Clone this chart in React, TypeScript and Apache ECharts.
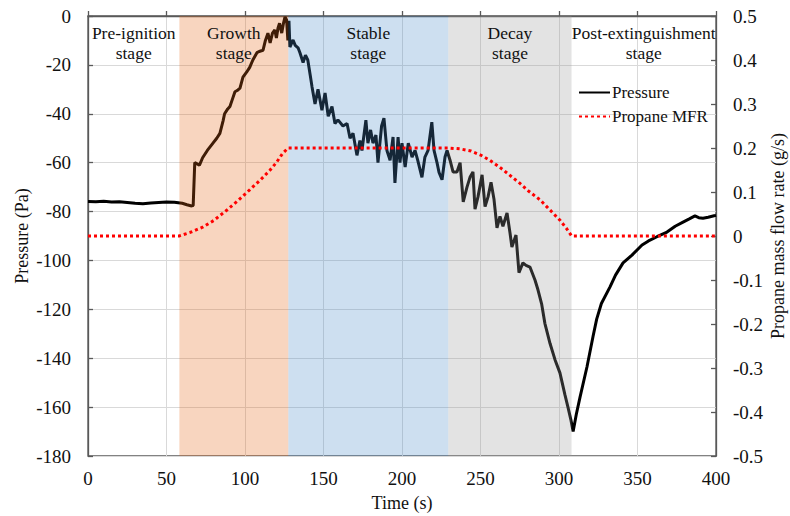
import React, { useEffect, useRef } from "react";
import * as echarts from "echarts";

// ---- Data ----
const timeS = [
  0, 5, 10, 15, 20, 25, 30, 35, 40, 45, 50, 55, 60, 63, 66, 67,
  68, 69.5, 71, 73, 76, 79.6, 82, 84, 86, 87, 89, 90.4, 92, 93.6, 95, 96.8, 98.7, 101, 103, 105, 107.6, 109, 111.5, 113, 114.6, 116, 117.5, 119, 120, 121, 122, 123.4, 124.5, 125.5, 126.5, 127.3,
  128, 128.6, 130.6, 132, 133.8, 135, 137, 138.5, 140, 141.5, 142.7, 144.6, 146.5, 149, 151, 153, 155.4, 157.3, 159.2, 162.4, 165, 166.9, 168.8, 171.3, 173.2, 174.5, 177, 178.3, 180, 181.5, 183.4, 184.7, 187, 188.5, 190.4, 192.4, 194.3, 195.5, 197.5, 198.7, 200, 202, 204, 206.4, 208.3, 210, 212.7, 214.6, 216.6, 219, 220.4, 222.3, 223.6, 225.5, 227.4,
  228.7, 230.6, 232.5, 235, 237, 239, 241.4, 243.3, 245.2, 246.5, 248.4, 251, 252.9, 254.8, 256.7, 258.6, 260.5, 262.4, 264.3, 266.9, 268.8, 270, 272.6, 274.5, 277, 279, 281.5, 284.7, 286.6, 289, 291, 294.3, 297.5, 300.6, 303.8, 305.7, 307.5, 309,
  311, 313.4, 317.8, 321.7, 324, 327, 332.5, 336, 340.8, 346.5, 352.9, 357, 362.4, 368.8, 374, 379, 383, 386.6, 389, 391.7, 395, 399.4, 400,
];
const pressurePa = [
  -75.9, -76.0, -75.8, -76.1, -76.0, -76.3, -76.6, -76.8, -76.5, -76.3, -76.1, -76.2, -76.6, -77.2, -77.7, -77.5,
  -60, -60.5, -61, -58, -55, -52, -50, -48, -43, -40, -38, -37, -34, -31, -30.5, -29.5, -25, -23, -21, -18, -15, -14.5, -14, -10, -7, -11, -7, -5.7, -9, -5, -3, -7, -3, -0.4, -1.6, -10,
  -2, -12.7, -9.8, -12, -13, -15, -19, -16, -18, -24, -29, -36, -30, -38.5, -31.5, -41, -37, -44, -42.5, -45, -44, -50, -48, -57, -51, -55, -42.6, -52, -46.6, -52, -48.7, -60, -45, -41.8, -55, -59, -49.5, -68.3, -49.5, -60, -52, -61.8, -52, -57.7, -55, -59, -66, -57.7, -55, -43.4, -55, -60, -64, -67, -57.7,
  -55, -59, -63.8, -63.8, -60, -76, -70, -66, -63.8, -79, -74, -65, -78, -74, -68, -75, -86.7, -82, -86, -80.6, -88.8, -94.5, -89.6, -105, -101, -102, -102.7, -108, -112, -118, -125.7, -134, -140.7, -146, -155, -160, -165, -170,
  -163, -155.9, -143.6, -131, -124, -117.6, -110.8, -106, -101, -97.8, -93.7, -92, -90.3, -88.4, -86, -84.3, -83, -81.8, -82.5, -82.7, -82.3, -81.6, -81.5,
];
const mfrTime = [0, 58, 65, 73, 80, 88.5, 96, 103, 110, 116, 120, 124, 127.5, 229.5, 237, 244, 250, 256, 262, 268, 275, 281, 288, 294, 300.6, 305, 308, 400];
const mfrValue = [0, 0, 0.008, 0.02, 0.035, 0.059, 0.082, 0.105, 0.128, 0.15, 0.167, 0.188, 0.2, 0.2, 0.198, 0.193, 0.184, 0.172, 0.157, 0.14, 0.12, 0.101, 0.082, 0.06, 0.036, 0.016, 0, 0];

const stageLabels = ["Pre-ignition\nstage", "Growth\nstage", "Stable\nstage", "Decay\nstage", "Post-extinguishment\nstage"];
const stageStart = [0, 58.2, 127.6, 229.5, 308];
const stageEnd = [58.2, 127.6, 229.5, 308, 400];
const stageFill = [
  "rgba(0,0,0,0)",
  "rgba(230,105,26,0.28)",
  "rgba(76,141,201,0.28)",
  "rgba(155,155,155,0.28)",
  "rgba(0,0,0,0)",
];

const FONT = "Liberation Serif, serif";
const AXIS_COLOR = "#595959";
const TEXT_COLOR = "#111";

export default function App() {
  const ref = useRef<HTMLDivElement>(null);
  useEffect(() => {
    if (!ref.current) return;
    const chart = echarts.init(ref.current, undefined, { renderer: "svg" });
    const pressureData = timeS.map((t, i) => [t, pressurePa[i]]);
    const mfrData = mfrTime.map((t, i) => [t, mfrValue[i]]);
    const stageData = stageStart.map((s, i) => [s, stageEnd[i]]);

    const axisLabel = { fontFamily: FONT, fontSize: 19, color: TEXT_COLOR };
    const axisLine = { show: true, lineStyle: { color: AXIS_COLOR, width: 1.3 } };
    const axisTick = { show: true, inside: true, length: 5, lineStyle: { color: AXIS_COLOR, width: 1.3 } };

    chart.setOption({
      animation: false,
      backgroundColor: "#fff",
      textStyle: { fontFamily: FONT },
      grid: {
        left: 88, top: 16, width: 628, height: 440,
        outerBoundsMode: "none",
        containLabel: false,
        show: true, borderColor: AXIS_COLOR, borderWidth: 1.3, backgroundColor: "transparent",
      },
      legend: {
        orient: "vertical",
        left: 578,
        top: 84,
        padding: 0,
        itemWidth: 31,
        itemHeight: 14,
        itemGap: 7,
        itemStyle: { opacity: 0 },
        textStyle: { fontFamily: FONT, fontSize: 17, color: TEXT_COLOR, padding: [0, 0, 0, -3] },
        data: ["Pressure", "Propane MFR"],
      },
      xAxis: {
        type: "value", min: 0, max: 400, interval: 50,
        name: "Time (s)", nameLocation: "middle", nameGap: 38,
        nameMoveOverlap: false,
        nameTextStyle: { fontFamily: FONT, fontSize: 18, color: TEXT_COLOR },
        axisLabel: { ...axisLabel, margin: 13 },
        axisLine, axisTick,
        splitLine: { show: true, lineStyle: { color: "#d9d9d9", width: 1 } },
      },
      yAxis: [
        {
          type: "value", min: -180, max: 0, interval: 20,
          name: "Pressure (Pa)", nameLocation: "middle", nameGap: 57, nameRotate: 90,
          nameMoveOverlap: false,
          nameTextStyle: { fontFamily: FONT, fontSize: 18, color: TEXT_COLOR },
          axisLabel: { ...axisLabel, margin: 17 },
          axisLine, axisTick,
          splitLine: { show: true, lineStyle: { color: "#d9d9d9", width: 1 } },
        },
        {
          type: "value", min: -0.5, max: 0.5, interval: 0.1, position: "right",
          name: "Propane mass flow rate (g/s)", nameLocation: "middle", nameGap: 53, nameRotate: 90,
          nameMoveOverlap: false,
          nameTextStyle: { fontFamily: FONT, fontSize: 18, color: TEXT_COLOR },
          axisLabel: { ...axisLabel, margin: 17, formatter: (v: number) => String(Math.round(v * 10) / 10) },
          axisLine, axisTick,
          splitLine: { show: false },
        },
      ],
      series: [
        {
          name: "Pressure",
          type: "line",
          xAxisIndex: 0, yAxisIndex: 0,
          data: pressureData,
          symbol: "none", showSymbol: false,
          lineStyle: { color: "#000", width: 3 },
          itemStyle: { color: "#000" },
          z: 2,
        },
        {
          type: "custom",
          xAxisIndex: 0, yAxisIndex: 0,
          data: stageData,
          encode: { x: [0, 1] },
          silent: true,
          z: 3,
          renderItem: (params: any, api: any) => {
            const s = api.value(0);
            const e = api.value(1);
            const p1 = api.coord([s, 0]);
            const p2 = api.coord([e, -180]);
            const i = params.dataIndex;
            return {
              type: "group",
              children: [
                {
                  type: "rect",
                  shape: { x: p1[0], y: p1[1], width: p2[0] - p1[0], height: p2[1] - p1[1] },
                  style: { fill: stageFill[i] },
                },
                {
                  type: "text",
                  x: (p1[0] + p2[0]) / 2,
                  y: p1[1] + 7,
                  style: {
                    text: stageLabels[i],
                    fill: TEXT_COLOR,
                    fontFamily: FONT,
                    fontSize: 17.5,
                    align: "center",
                    verticalAlign: "top",
                    lineHeight: 20,
                  },
                },
              ],
            };
          },
        },
        {
          name: "Propane MFR",
          type: "line",
          xAxisIndex: 0, yAxisIndex: 1,
          data: mfrData,
          symbol: "none", showSymbol: false,
          lineStyle: { color: "#ff0000", width: 3, type: [3, 3] },
          itemStyle: { color: "#ff0000" },
          z: 4,
        },
      ],
    });
    return () => chart.dispose();
  }, []);
  return <div ref={ref} style={{ position: "fixed", left: 0, top: 0, width: 790, height: 516 }} />;
}
